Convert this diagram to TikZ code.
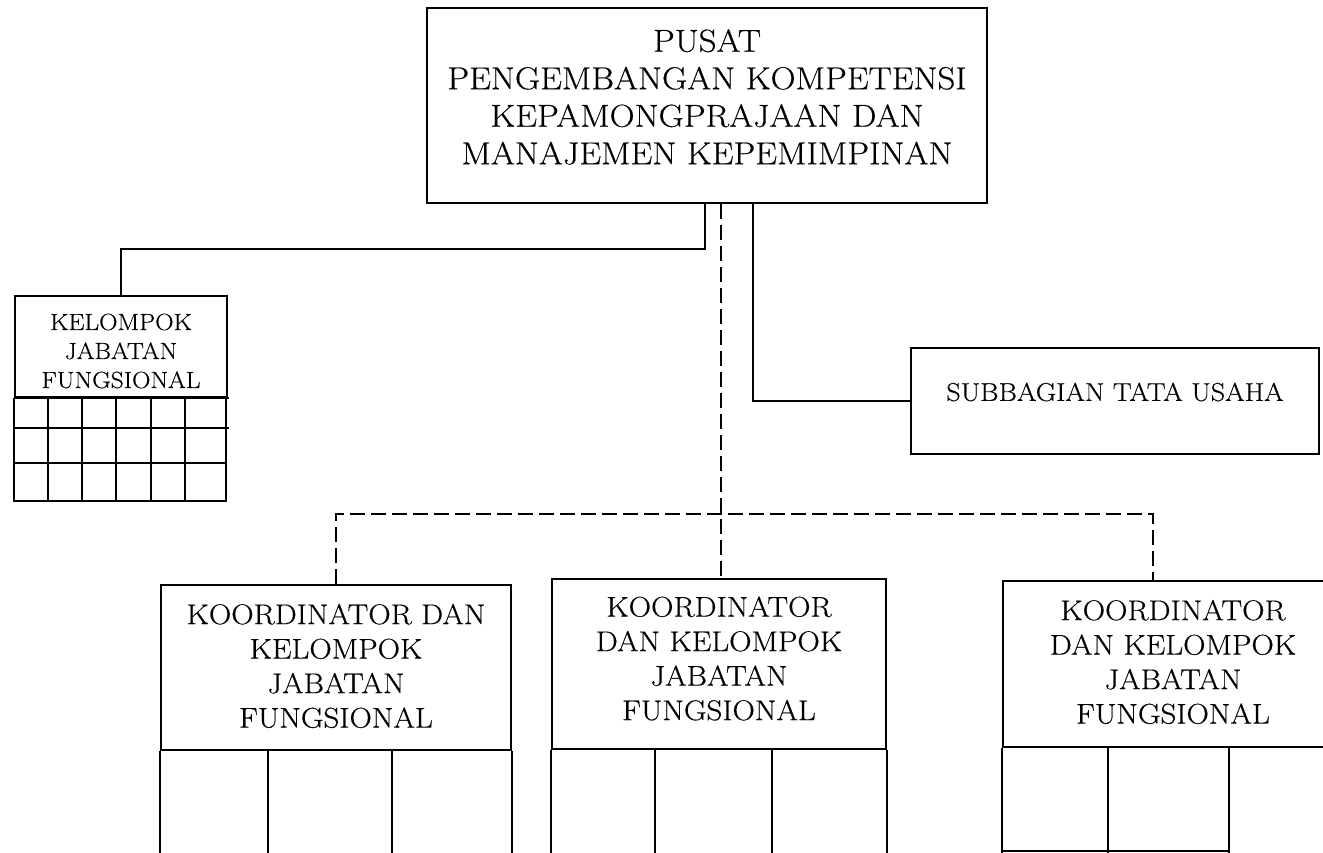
\documentclass[tikz,border=0pt]{standalone}
\usepackage{fontspec}
\setmainfont{Latin Modern Roman}[FakeStretch=1.09, FakeBold=0.4]
\tikzset{
  box/.style={draw, line width=1.8pt, inner sep=0pt},
  link/.style={line width=1.8pt},
  dlink/.style={line width=1.8pt, dash pattern=on 15pt off 6pt},
  txt/.style={align=center, inner sep=0pt},
}
\newcommand{\bigtxt}{\fontsize{31.8}{37.5}\selectfont}
\newcommand{\smalltxt}{\fontsize{23.4}{29}\selectfont}
\newcommand{\midtxt}{\fontsize{25.8}{30}\selectfont}
\newcommand{\kootxt}{\fontsize{28.5}{34.5}\selectfont}
\begin{document}
\begin{tikzpicture}[x=1pt, y=-1pt]
\useasboundingbox (0,0) rectangle (1323,852);

\node[box, minimum width=560, minimum height=195] (P) at (707,105.5) {};
\node[txt, font=\bigtxt] (Pt) at (707,97) {PUSAT\\PENGEMBANGAN KOMPETENSI\\KEPAMONGPRAJAAN DAN\\MANAJEMEN KEPEMIMPINAN};

\node[box, minimum width=212, minimum height=101] (K) at (121,346.5) {};
\node[txt, font=\smalltxt] (Kt) at (121,351) {KELOMPOK\\JABATAN\\FUNGSIONAL};

\node[box, minimum width=408, minimum height=106] (T) at (1115,401) {};
\node[txt, font=\midtxt] (Tt) at (1115,392) {SUBBAGIAN TATA USAHA};

\node[box, minimum width=350, minimum height=165] (A) at (336,667.5) {};
\node[txt, font=\kootxt] (At) at (336,666) {KOORDINATOR DAN\\KELOMPOK\\JABATAN\\FUNGSIONAL};
\node[box, minimum width=334, minimum height=170] (B) at (719,664) {};
\node[txt, font=\kootxt] (Bt) at (719,658.5) {KOORDINATOR\\DAN KELOMPOK\\JABATAN\\FUNGSIONAL};
\node[box, minimum width=340, minimum height=166] (C) at (1173,664) {};
\node[txt, font=\kootxt] (Ct) at (1173,662) {KOORDINATOR\\DAN KELOMPOK\\JABATAN\\FUNGSIONAL};

\draw[link] (K.south west) -- ++(0,103) -- ++(212,0) -- ++(0,-103);
\foreach \y in {0,30} \draw[link] (K.south west) ++(0,\y) -- ++(215,0);
\draw[link] (K.south west) ++(0,65) -- ++(212,0);
\foreach \x in {34,68,102,137,171} \draw[link] (K.south west) ++(\x,0) -- ++(0,103);

\foreach \n/\a/\b in {A/108/232, B/104/221, C/106/227}
  \draw[link] (\n.south west) -- ++(0,110) (\n.south east) -- ++(0,110)
    (\n.south west) ++(\a,0) -- ++(0,110) (\n.south west) ++(\b,0) -- ++(0,110);
\draw[link] (C.south west) ++(0,103) -- ++(227,0);

\coordinate (d) at ([xshift=14]P.south);
\draw[link] ([xshift=-2]P.south) -- ++(0,45) -| (K.north);
\draw[link] ([xshift=46]P.south) |- (T.west);
\draw[dlink] (d) -- (d |- B.north);
\draw[dlink] (A.north) -- ++(0,-70) -| ([xshift=-20]C.north);
\end{tikzpicture}
\end{document}
